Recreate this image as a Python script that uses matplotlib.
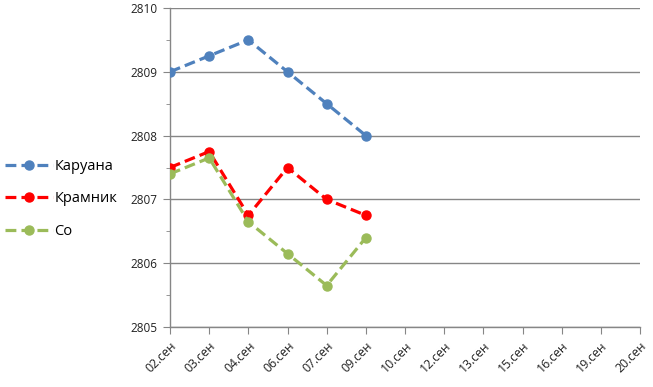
import matplotlib
matplotlib.use("Agg")
import matplotlib.pyplot as plt
from matplotlib.ticker import MultipleLocator
from matplotlib.lines import Line2D

categories = ["02.сен", "03.сен", "04.сен", "06.сен", "07.сен", "09.сен",
              "10.сен", "12.сен", "13.сен", "15.сен", "16.сен", "19.сен", "20.сен"]
caruana = [2809.0, 2809.25, 2809.5, 2809.0, 2808.5, 2808.0]
kramnik = [2807.5, 2807.75, 2806.75, 2807.5, 2807.0, 2806.75]
so = [2807.4, 2807.65, 2806.65, 2806.15, 2805.65, 2806.4]
series_names = ["Каруана", "Крамник", "Со"]
colors = ["#4F81BD", "#FF0000", "#9BBB59"]

plt.rcParams['font.family'] = ['Open Sans', 'DejaVu Sans']

W, H = 653, 387
fig = plt.figure(figsize=(W / 100, H / 100), dpi=100)
ax = fig.add_axes([170 / W, (H - 327) / H, (640 - 170) / W, (327 - 8) / H])

x = list(range(len(categories)))
handles = []
for vals, name, c in zip([caruana, kramnik, so], series_names, colors):
    ln, = ax.plot(x[:len(vals)], vals, color=c, lw=2.3, ls=(0, (3.4, 1.6)),
                  marker='o', ms=6.5, label=name, zorder=3)
    handles.append(ln)

ax.set_xlim(0, len(categories) - 1)
ax.set_ylim(2805, 2810)
ax.yaxis.set_major_locator(MultipleLocator(1))
ax.yaxis.set_minor_locator(MultipleLocator(0.5))
ax.grid(axis='y', which='major', color='#868686', lw=1)
ax.set_axisbelow(True)
ax.set_xticks(x)
ax.set_xticklabels(categories, rotation=45, ha='right', va='top',
                   rotation_mode='anchor', fontsize=8.8, color='#222222')
ax.tick_params(axis='x', length=5, color='#868686', pad=4)
ax.tick_params(axis='y', which='major', length=5, color='#868686',
               labelsize=8.5, labelcolor='#222222', pad=4)
ax.tick_params(axis='y', which='minor', length=3, color='#868686')
ax.yaxis.set_major_formatter(matplotlib.ticker.FuncFormatter(lambda v, p: f"{v:.0f}"))
for s in ['top', 'right']:
    ax.spines[s].set_visible(False)
for s in ['left', 'bottom']:
    ax.spines[s].set_color('#868686')
    ax.spines[s].set_linewidth(1)

leg = fig.legend(handles=handles, loc='upper left',
                 bbox_to_anchor=(-1 / W, (H - 153) / H),
                 frameon=False, fontsize=10.5, handlelength=3.3,
                 labelspacing=1.2, handletextpad=0.1, borderaxespad=0)

fig.savefig("out.png", dpi=100)
